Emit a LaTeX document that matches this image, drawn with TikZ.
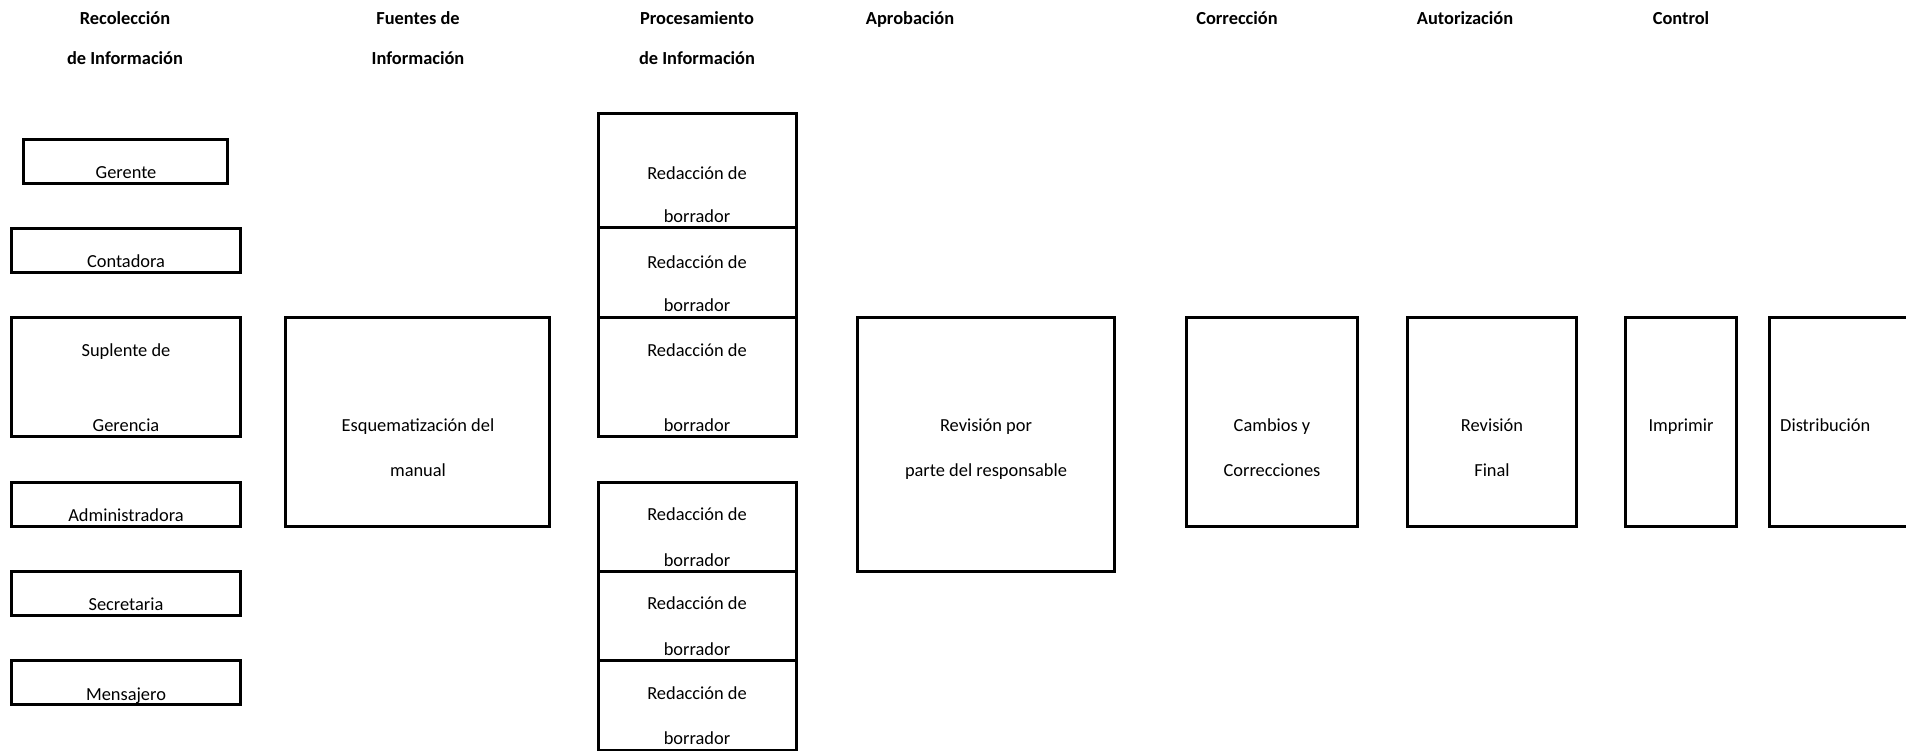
\documentclass[tikz,border=0pt]{standalone}
\usepackage{fontspec}
\setmainfont{Carlito}
\begin{document}
\begin{tikzpicture}[x=1pt,y=-1pt,
  box/.style={draw=black, line width=2.7pt, inner sep=0pt, anchor=north west},
  txt/.style={inner sep=0pt, anchor=base, font=\fontsize{18.4pt}{22pt}\selectfont},
  head/.style={txt, font=\fontsize{18.4pt}{22pt}\selectfont\bfseries}]
\useasboundingbox (0,0) rectangle (1906,750);
\clip (0,0) rectangle (1906,750);

% column headings
\node[head] (h1a) at (125,24) {Recolección};
\node[head] (h1b) at (125,64) {de Información};
\node[head] (h2a) at (418,24) {Fuentes de};
\node[head] (h2b) at (418,64) {Información};
\node[head] (h3a) at (697,24) {Procesamiento};
\node[head] (h3b) at (697,64) {de Información};
\node[head] (h4)  at (910,24) {Aprobación};
\node[head] (h5)  at (1237,24) {Corrección};
\node[head] (h6)  at (1465,24) {Autorización};
\node[head] (h7)  at (1681,24) {Control};

% people who supply information
\node[box, minimum width=204pt, minimum height=44pt]  (ger) at (22,138) {};
\node[box, minimum width=229pt, minimum height=44pt]  (con) at (10,227) {};
\node[box, minimum width=229pt, minimum height=119pt] (sup) at (10,316) {};
\node[box, minimum width=229pt, minimum height=44pt]  (adm) at (10,481) {};
\node[box, minimum width=229pt, minimum height=44pt]  (sec) at (10,570) {};
\node[box, minimum width=229pt, minimum height=44pt]  (men) at (10,659) {};
\node[txt] (tger)  at (126,178) {Gerente};
\node[txt] (tcon)  at (126,267) {Contadora};
\node[txt] (tsup1) at (126,356) {Suplente de};
\node[txt] (tsup2) at (126,431) {Gerencia};
\node[txt] (tadm)  at (126,521) {Administradora};
\node[txt] (tsec)  at (126,610) {Secretaria};
\node[txt] (tmen)  at (126,700) {Mensajero};

% outline of the manual
\node[box, minimum width=264pt, minimum height=209pt] (esq) at (284,316) {};
\node[txt] (tesq1) at (418,431) {Esquematización del};
\node[txt] (tesq2) at (418,476) {manual};

% drafting stacks
\node[box, minimum width=198pt, minimum height=114pt] (red1) at (597,112) {};
\node[box, minimum width=198pt, minimum height=90pt]  (red2) at (597,226) {};
\node[box, minimum width=198pt, minimum height=119pt] (red3) at (597,316) {};
\node[box, minimum width=198pt, minimum height=89pt]  (red4) at (597,481) {};
\node[box, minimum width=198pt, minimum height=89pt]  (red5) at (597,570) {};
\node[box, minimum width=198pt, minimum height=89.5pt] (red6) at (597,659) {};
\node[txt] (tred1a) at (697,179) {Redacción de};
\node[txt] (tred1b) at (697,222) {borrador};
\node[txt] (tred2a) at (697,268) {Redacción de};
\node[txt] (tred2b) at (697,311) {borrador};
\node[txt] (tred3a) at (697,356) {Redacción de};
\node[txt] (tred3b) at (697,431) {borrador};
\node[txt] (tred4a) at (697,520) {Redacción de};
\node[txt] (tred4b) at (697,566) {borrador};
\node[txt] (tred5a) at (697,609) {Redacción de};
\node[txt] (tred5b) at (697,655) {borrador};
\node[txt] (tred6a) at (697,699) {Redacción de};
\node[txt] (tred6b) at (697,744) {borrador};

% review, correction, authorisation and control
\node[box, minimum width=257pt, minimum height=254pt] (rev) at (856,316) {};
\node[txt] (trev1) at (986,431) {Revisión por};
\node[txt] (trev2) at (986,476) {parte del responsable};

\node[box, minimum width=171pt, minimum height=209pt] (cam) at (1185,316) {};
\node[txt] (tcam1) at (1272,431) {Cambios y};
\node[txt] (tcam2) at (1272,476) {Correcciones};

\node[box, minimum width=169pt, minimum height=209pt] (fin) at (1406,316) {};
\node[txt] (tfin1) at (1492,431) {Revisión};
\node[txt] (tfin2) at (1492,476) {Final};

\node[box, minimum width=111pt, minimum height=209pt] (imp) at (1624,316) {};
\node[txt] (timp) at (1681,431) {Imprimir};

\node[box, minimum width=170pt, minimum height=209pt] (dis) at (1768,316) {};
\node[txt, anchor=base west] (tdis) at (1780,431) {Distribución};
\end{tikzpicture}
\end{document}
